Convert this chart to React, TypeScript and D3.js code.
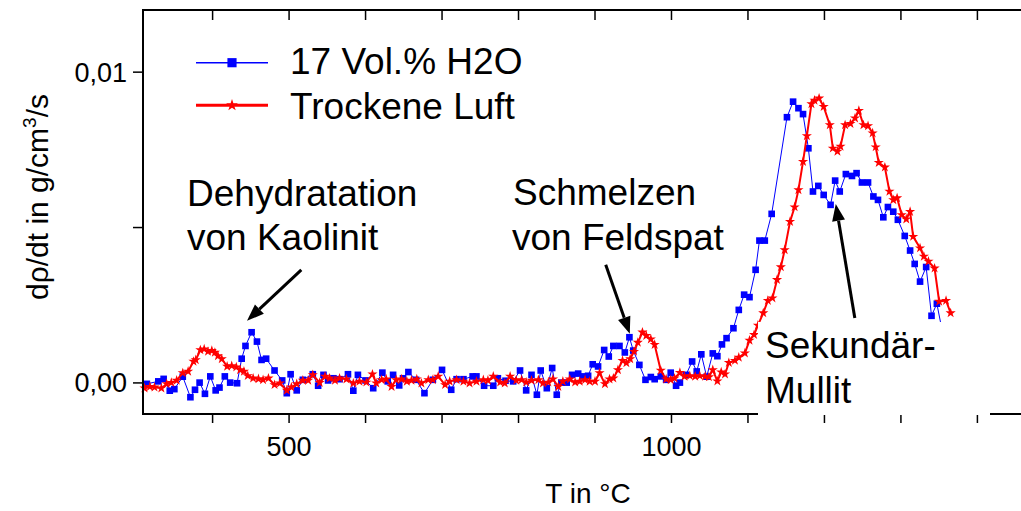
import React from 'react';
import * as d3 from 'd3';

// Temperature (°C) and density-change rate (g/cm³/s), humid atmosphere
const humidT = [
  314, 329, 336, 344, 350, 361, 371, 377, 383, 390, 397, 404, 409, 416, 423, 432, 438, 443, 451, 458,
  464, 470, 481, 491, 497, 502, 510, 518, 531, 538, 545, 551, 558, 566, 577, 584, 590, 600, 610, 622,
  629, 636, 644, 649, 656, 666, 677, 688, 700, 712, 719, 728, 740, 745, 755, 767, 773, 783, 793, 802,
  810, 817, 824, 829, 837, 844, 850, 856, 863, 870, 878, 884, 891, 897, 904, 912, 918, 924, 932, 939,
  945, 950, 958, 966, 973, 978, 986, 993, 999, 1006, 1011, 1019, 1027, 1033, 1039, 1046, 1054, 1060, 1066, 1072,
  1081, 1088, 1095, 1102, 1110, 1115, 1122, 1131, 1151, 1159, 1166, 1172, 1179, 1185, 1192, 1199, 1208, 1214, 1220, 1228,
  1236, 1242, 1249, 1257, 1264, 1270, 1277, 1283, 1290, 1296, 1305, 1312, 1318, 1325, 1333, 1340, 1347, 1355,
];
const humidV = [
  -0.03e-3, 0.05e-3, 0.13e-3, -0.25e-3, -0.2e-3, 0.2e-3, -0.46e-3, -0.22e-3, 0.01e-3, -0.35e-3,
  0.21e-3, -0.24e-3, -0.15e-3, 0.21e-3, 0.01e-3, -0.01e-3, 0.78e-3, 1.19e-3, 1.63e-3, 1.33e-3,
  0.74e-3, 0.78e-3, 0.4e-3, 0.08e-3, -0.33e-3, 0.28e-3, -0.24e-3, 0.1e-3, 0.28e-3, -0.09e-3,
  0.26e-3, 0.08e-3, 0.15e-3, 0.12e-3, 0.28e-3, -0.25e-3, 0.26e-3, 0.08e-3, -0.17e-3, 0.33e-3,
  0.05e-3, 0.26e-3, -0.08e-3, 0.15e-3, 0.35e-3, 0.1e-3, -0.33e-3, 0.1e-3, 0.42e-3, -0.22e-3,
  0.12e-3, 0.12e-3, 0.21e-3, 0.21e-3, -0.09e-3, -0.09e-3, 0.15e-3, 0.07e-3, 0.05e-3, 0.4e-3,
  -0.24e-3, 0.26e-3, -0.38e-3, 0.4e-3, -0.17e-3, 0.48e-3, -0.38e-3, 0.01e-3, 0.01e-3, 0.26e-3,
  0.3e-3, 0.21e-3, 0.23e-3, 0.6e-3, 0.53e-3, 1.06e-3, 0.85e-3, 1.19e-3, 1.19e-3, 0.98e-3,
  1.47e-3, 1.04e-3, 0.58e-3, 0.1e-3, 0.19e-3, 0.12e-3, 0.21e-3, 0.1e-3, 0.33e-3, -0.09e-3,
  0.01e-3, 0.26e-3, 0.69e-3, 0.37e-3, 0.92e-3, 0.2e-3, 0.95e-3, 0.86e-3, 1.24e-3, 1.44e-3,
  1.76e-3, 2.35e-3, 2.84e-3, 2.76e-3, 3.64e-3, 4.58e-3, 4.58e-3, 5.44e-3, 8.55e-3, 9.05e-3,
  8.84e-3, 8.65e-3, 7.55e-3, 6.16e-3, 6.34e-3, 6.05e-3, 5.73e-3, 6.51e-3, 6.16e-3, 6.72e-3,
  6.66e-3, 6.75e-3, 6.45e-3, 6.45e-3, 6.0e-3, 5.89e-3, 5.33e-3, 5.66e-3, 5.51e-3, 5.25e-3,
  4.73e-3, 4.26e-3, 3.83e-3, 3.26e-3, 3.73e-3, 2.16e-3, 2.55e-3, 1.55e-3,
];

// Temperature (°C) and density-change rate (g/cm³/s), dry air
const dryT = [
  311, 318, 324, 333, 340, 346, 353, 361, 368, 375, 378, 384, 389, 394, 399, 403, 407, 412, 419, 425,
  431, 436, 441, 446, 453, 460, 466, 473, 481, 488, 497, 503, 510, 518, 525, 531, 540, 547, 553, 560,
  566, 575, 584, 592, 601, 609, 614, 621, 627, 634, 640, 647, 654, 660, 667, 673, 682, 688, 695, 704,
  710, 719, 728, 736, 745, 754, 760, 767, 776, 782, 789, 797, 804, 810, 817, 826, 832, 839, 845, 852,
  858, 867, 874, 880, 887, 893, 900, 906, 913, 919, 924, 930, 936, 941, 946, 951, 956, 962, 967, 973,
  978, 986, 993, 999, 1004, 1011, 1017, 1024, 1031, 1037, 1044, 1049, 1054, 1060, 1065, 1070, 1075, 1083, 1088, 1096,
  1102, 1108, 1113, 1120, 1126, 1132, 1138, 1143, 1148, 1155, 1161, 1166, 1172, 1177, 1183, 1187, 1193, 1199, 1207, 1211,
  1217, 1221, 1227, 1234, 1240, 1245, 1251, 1257, 1263, 1267, 1271, 1279, 1285, 1290, 1295, 1301, 1307, 1312, 1316, 1325,
  1330, 1336, 1344, 1350, 1359, 1365,
];
const dryV = [
  -0.17e-3, -0.12e-3, -0.14e-3, -0.17e-3, -0.03e-3, 0.01e-3, 0.08e-3, 0.32e-3, 0.37e-3, 0.69e-3,
  0.74e-3, 1.06e-3, 1.09e-3, 1.01e-3, 1.04e-3, 0.98e-3, 0.87e-3, 0.77e-3, 0.53e-3, 0.55e-3,
  0.51e-3, 0.42e-3, 0.37e-3, 0.23e-3, 0.15e-3, 0.13e-3, 0.1e-3, 0.15e-3, -0.06e-3, -0.01e-3,
  -0.24e-3, -0.14e-3, -0.03e-3, 0.08e-3, 0.08e-3, 0.26e-3, 0.01e-3, 0.21e-3, 0.15e-3, 0.08e-3,
  0.15e-3, 0.12e-3, -0.01e-3, 0.05e-3, 0.02e-3, 0.28e-3, -0.01e-3, 0.1e-3, 0.12e-3, -0.12e-3,
  0.1e-3, 0.12e-3, 0.05e-3, 0.08e-3, 0.12e-3, -0.01e-3, 0.1e-3, 0.1e-3, 0.21e-3, -0.06e-3,
  0.05e-3, 0.1e-3, 0.05e-3, -0.01e-3, 0.05e-3, 0.1e-3, 0.08e-3, 0.21e-3, 0.02e-3, -0.01e-3,
  0.21e-3, 0.08e-3, 0.1e-3, 0.02e-3, 0.08e-3, 0.1e-3, -0.01e-3, 0.02e-3, 0.12e-3, -0.12e-3,
  0.05e-3, 0.12e-3, 0.02e-3, 0.05e-3, 0.1e-3, 0.05e-3, 0.05e-3, 0.32e-3, -0.03e-3, 0.12e-3,
  0.15e-3, 0.42e-3, 0.72e-3, 0.64e-3, 0.77e-3, 1.01e-3, 1.3e-3, 1.63e-3, 1.52e-3, 1.41e-3,
  1.23e-3, 0.4e-3, 0.12e-3, 0.1e-3, 0.15e-3, 0.33e-3, 0.21e-3, 0.23e-3, 0.21e-3, 0.23e-3,
  0.21e-3, 0.19e-3, 0.42e-3, 0.06e-3, 0.35e-3, 0.28e-3, 0.65e-3, 0.72e-3, 0.82e-3, 0.96e-3,
  1.37e-3, 1.55e-3, 1.85e-3, 2.25e-3, 2.65e-3, 2.73e-3, 3.32e-3, 3.73e-3, 4.28e-3, 5.19e-3,
  5.66e-3, 6.21e-3, 7.12e-3, 7.95e-3, 8.98e-3, 9.09e-3, 9.16e-3, 8.89e-3, 8.3e-3, 7.55e-3,
  7.45e-3, 7.61e-3, 8.3e-3, 8.34e-3, 8.52e-3, 8.76e-3, 8.3e-3, 8.27e-3, 8.04e-3, 7.59e-3,
  7.09e-3, 6.94e-3, 6.16e-3, 5.89e-3, 5.95e-3, 5.41e-3, 5.27e-3, 5.51e-3, 4.71e-3, 4.34e-3,
  4.07e-3, 3.91e-3, 3.69e-3, 2.62e-3, 2.65e-3, 2.25e-3,
];

const seriesNames = ['17 Vol.% H2O', 'Trockene Luft'];
const xTicks = [400, 500, 600, 700, 800, 900, 1000, 1100, 1200, 1300, 1400];
const xTickLabels = ['', '500', '', '', '', '', '1000', '', '', '', ''];
const yTicks = [0, 0.005, 0.01];
const yTickLabels = ['0,00', '', '0,01'];

const W = 1021;
const H = 511;
const left = 143;
const top = 10;
const bottom = 414;
const right = 1021;

const FONT = "'Liberation Sans', Arial, Helvetica, sans-serif";

const x = d3.scaleLinear().domain([309, 1457]).range([left, right]);
const y = d3.scaleLinear().domain([-0.001, 0.012]).range([bottom, top]);

type Pt = { t: number; v: number };
const humid: Pt[] = humidT.map((t, i) => ({ t, v: humidV[i] }));
const dry: Pt[] = dryT.map((t, i) => ({ t, v: dryV[i] }));

const line = d3
  .line<Pt>()
  .x((d) => x(d.t))
  .y((d) => y(d.v));

const squarePath = d3.symbol().type(d3.symbolSquare).size(44)()!;
const starPath = d3.symbol().type(d3.symbolStar).size(32)()!;
const legendSquare = d3.symbol().type(d3.symbolSquare).size(84)()!;
const legendStar = d3.symbol().type(d3.symbolStar).size(44)()!;

// Annotation arrows, tail and tip in data coordinates
const arrows = [
  { from: [516, 3.64e-3], to: [445, 2.0e-3] },
  { from: [914, 3.8e-3], to: [945.5, 1.58e-3] },
  { from: [1239.7, 2.09e-3], to: [1214.8, 5.76e-3] },
];

function Arrow({ from, to }: { from: number[]; to: number[] }) {
  const x1 = x(from[0]);
  const y1 = y(from[1]);
  const x2 = x(to[0]);
  const y2 = y(to[1]);
  const ang = Math.atan2(y2 - y1, x2 - x1);
  const hl = 17;
  const hw = 6.5;
  const bx = x2 - hl * Math.cos(ang);
  const by = y2 - hl * Math.sin(ang);
  const px = -Math.sin(ang) * hw;
  const py = Math.cos(ang) * hw;
  return (
    <g>
      <line x1={x1} y1={y1} x2={bx} y2={by} stroke="#000" strokeWidth={3} />
      <polygon
        points={`${x2},${y2} ${bx + px},${by + py} ${bx - px},${by - py}`}
        fill="#000"
      />
    </g>
  );
}

export default function App() {
  return (
    <svg
      width={W}
      height={H}
      style={{ position: 'absolute', left: 0, top: 0, background: '#fff' }}
      fontFamily={FONT}
    >
      <rect x={0} y={0} width={W} height={H} fill="#fff" />

      {/* series: humid atmosphere */}
      <path d={line(humid)!} fill="none" stroke="#0000ff" strokeWidth={1} />
      {humid.map((d, i) => (
        <path key={'h' + i} d={squarePath} transform={`translate(${x(d.t)},${y(d.v)})`} fill="#0000ff" />
      ))}

      {/* series: dry air */}
      <path d={line(dry)!} fill="none" stroke="#ff0000" strokeWidth={2} />
      {dry.map((d, i) => (
        <path key={'d' + i} d={starPath} transform={`translate(${x(d.t)},${y(d.v)})`} fill="#ff0000" />
      ))}

      {/* frame */}
      <line x1={left} y1={top} x2={right} y2={top} stroke="#000" strokeWidth={2} />
      <line x1={left} y1={top - 1} x2={left} y2={bottom + 1} stroke="#000" strokeWidth={2} />
      <line x1={left} y1={bottom} x2={right} y2={bottom} stroke="#000" strokeWidth={2} />

      {/* x ticks: outward at bottom, inward at top */}
      {xTicks.map((t, i) => (
        <g key={'xt' + i}>
          <line x1={x(t)} y1={bottom} x2={x(t)} y2={bottom + 9} stroke="#000" strokeWidth={1.5} />
          <line x1={x(t)} y1={top} x2={x(t)} y2={top + 10} stroke="#000" strokeWidth={1.5} />
          {xTickLabels[i] && (
            <text x={x(t)} y={456} textAnchor="middle" fontSize={27} fill="#000">
              {xTickLabels[i]}
            </text>
          )}
        </g>
      ))}

      {/* y ticks */}
      {yTicks.map((v, i) => (
        <g key={'yt' + i}>
          <line x1={left - 10} y1={y(v)} x2={left} y2={y(v)} stroke="#000" strokeWidth={1.5} />
          {yTickLabels[i] && (
            <text x={127} y={y(v) + 9.5} textAnchor="end" fontSize={27} fill="#000">
              {yTickLabels[i]}
            </text>
          )}
        </g>
      ))}

      {/* axis titles */}
      <text x={588} y={503} textAnchor="middle" fontSize={28} fill="#000">
        T in °C
      </text>
      <text
        transform="translate(48,197) rotate(-90)"
        textAnchor="middle"
        fontSize={30}
        fill="#000"
      >
        dρ/dt in g/cm<tspan fontSize={19} dy={-12}>3</tspan>
        <tspan dy={12}>/s</tspan>
      </text>

      {/* legend */}
      <line x1={196} y1={62.7} x2={268} y2={62.7} stroke="#0000ff" strokeWidth={1.5} />
      <path d={legendSquare} transform="translate(232,62.7)" fill="#0000ff" />
      <text x={290} y={74} fontSize={37} fill="#000">
        {seriesNames[0]}
      </text>
      <line x1={196} y1={105.3} x2={268} y2={105.3} stroke="#ff0000" strokeWidth={3} />
      <path d={legendStar} transform="translate(232,105.3)" fill="#ff0000" />
      <text x={290} y={119} fontSize={37} fill="#000">
        {seriesNames[1]}
      </text>

      {/* annotations */}
      <text x={187} y={206} fontSize={37} fill="#000">Dehydratation</text>
      <text x={187} y={250} fontSize={37} fill="#000">von Kaolinit</text>
      <text x={513} y={205} fontSize={37} fill="#000">Schmelzen</text>
      <text x={512} y={250} fontSize={37} fill="#000">von Feldspat</text>

      <rect x={758} y={322} width={232} height={93} fill="#fff" />
      <text x={765} y={358} fontSize={37} fill="#000">Sekundär-</text>
      <text x={765} y={403} fontSize={37} fill="#000">Mullit</text>

      {arrows.map((a, i) => (
        <Arrow key={'a' + i} from={a.from} to={a.to} />
      ))}
    </svg>
  );
}
